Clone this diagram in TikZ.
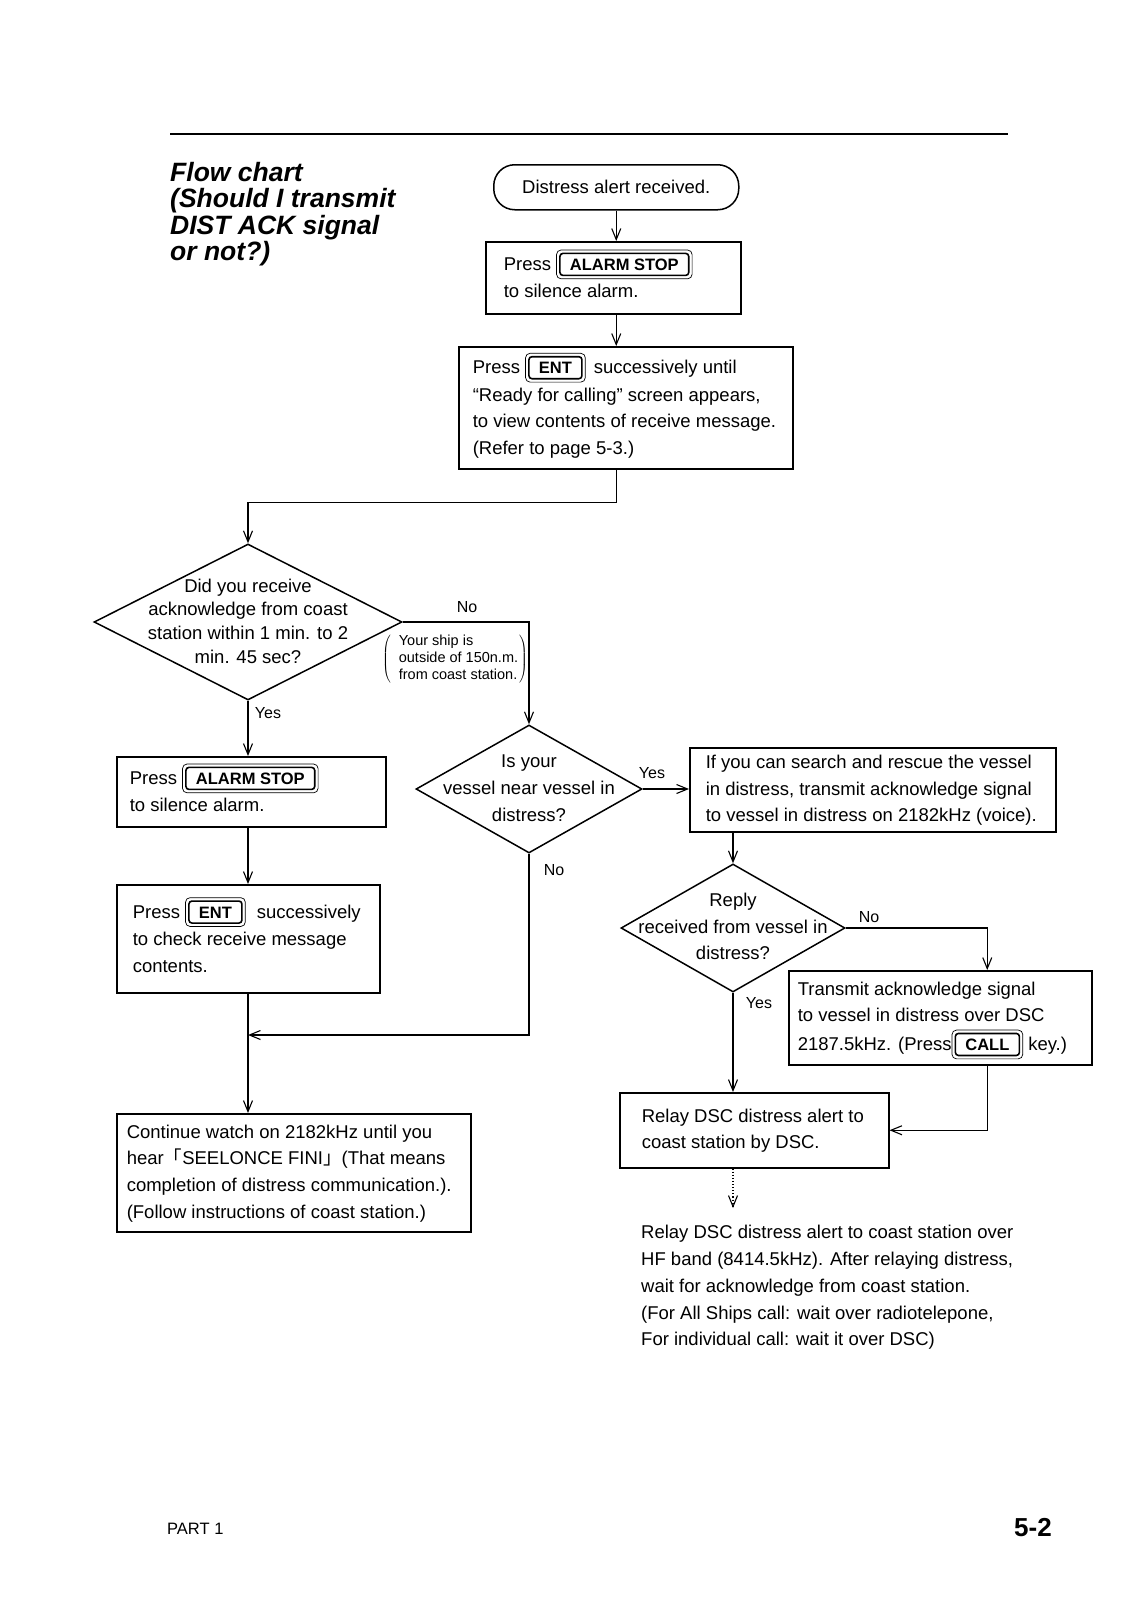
\documentclass[tikz,border=0pt]{standalone}
\usepackage{fontspec}
\setmainfont{Liberation Sans}
\newfontfamily\cjk{Noto Sans CJK JP}
\usetikzlibrary{shapes.geometric,arrows.meta}

\newcommand\txtl[1]{\begin{tabular}{@{}l@{}}#1\end{tabular}}
\newcommand\txtc[1]{\begin{tabular}{@{}c@{}}#1\end{tabular}}
\newcommand\keycap[1]{\tikz[baseline=(kc.base)]{\node[keyin](kc){#1};\draw[line width=0.7pt,rounded corners=4.5pt]([shift={(-2.6pt,-2.6pt)}]kc.south west) rectangle ([shift={(2.6pt,2.6pt)}]kc.north east);}}

\tikzset{
 keyin/.style={draw, rectangle, line width=1.6pt, rounded corners=3pt, minimum width=0pt, minimum height=0pt, anchor=center, inner xsep=10pt, inner ysep=5pt, text height=12pt, text depth=0pt, font=\bfseries\fontsize{16.5}{16.5}\selectfont},
 box/.style={draw, line width=1.5pt, anchor=north west, inner ysep=0pt, font=\fontsize{18.5}{26.7}\selectfont},
 dia/.style={draw, diamond, line width=1.5pt, inner sep=0pt},
 dtext/.style={inner sep=0pt, font=\fontsize{18.5}{26.7}\selectfont},
 lbl/.style={inner sep=0pt, font=\fontsize{16}{16}\selectfont},
 arr/.style={line width=1.1pt, -{Straight Barb[length=11pt,width=9pt,line width=1.1pt]}},
 con/.style={line width=1.1pt},
}

\begin{document}
\begin{tikzpicture}[x=1pt,y=-1pt]
\fill[white] (0,0) rectangle (1131,1600);
\useasboundingbox (0,0) rectangle (1131,1600);

% header
\draw[line width=1.2pt] (170,134) -- (1008,134);
\node[anchor=north west, inner sep=0pt, font=\bfseries\itshape\fontsize{26.5}{24.4}\selectfont] (title) at (170,162)
  {\txtl{Flow chart\\(Should I transmit\\DIST ACK signal\\or not?)}};

% top column
\node[draw, line width=1.5pt, rounded corners=21pt, minimum width=245pt, minimum height=45pt, anchor=north west, inner sep=0pt, font=\fontsize{18.5}{26.7}\selectfont] (start) at (493,164) {Distress alert received.};

\node[box, minimum width=255pt, minimum height=72pt, inner xsep=18pt] (b2) at (485,241)
  {\makebox[219pt][l]{\txtl{Press \keycap{ALARM STOP}\\to silence alarm.}}};

\node[box, minimum width=334pt, minimum height=122pt, inner xsep=14pt] (b3) at (458,346)
  {\makebox[306pt][l]{\txtl{Press \keycap{ENT}\hspace{3pt} successively until\\``Ready for calling'' screen appears,\\to view contents of receive message.\\(Refer to page 5-3.)}}};

% decision 1
\node[dia, minimum width=308pt, minimum height=156pt] (d1) at (248,622) {};
\node[dtext, font=\fontsize{18.5}{23.6}\selectfont] (d1t) at (248,623)
  {\txtc{Did you receive\\acknowledge from coast\\station within 1 min. to 2\\min. 45 sec?}};

\node[lbl] (no1) at (467,607) {No};
\node[lbl] (yes1) at (268,713) {Yes};
\node[inner sep=0pt, font=\fontsize{14.5}{17}\selectfont] (note) at (455,659)
  {$\left(\vcenter{\hbox{\hspace{8pt}\txtl{Your ship is\\outside of 150n.m.\\from coast station.}\hspace{1pt}}}\right)$};

% left column
\node[box, minimum width=269pt, minimum height=70pt, inner xsep=13pt] (b4) at (116,756)
  {\makebox[243pt][l]{\txtl{Press \keycap{ALARM STOP}\\to silence alarm.}}};

\node[box, minimum width=263pt, minimum height=108pt, inner xsep=16pt] (b5) at (116,884)
  {\makebox[231pt][l]{\txtl{Press \keycap{ENT}\hspace{6pt} successively\\to check receive message\\contents.}}};

\node[box, minimum width=354pt, minimum height=118pt, inner xsep=10pt] (b6) at (116,1113)
  {\makebox[334pt][l]{\txtl{Continue watch on 2182kHz until you\\hear{\cjk 「}SEELONCE FINI{\cjk 」}(That means\\completion of distress communication.).\\(Follow instructions of coast station.)}}};

% decision 2
\node[dia, minimum width=226pt, minimum height=128pt] (d2) at (529,789) {};
\node[dtext, font=\fontsize{18.5}{27}\selectfont] (d2t) at (529,789)
  {\txtc{Is your\\vessel near vessel in\\distress?}};
\node[lbl] (yes2) at (652,773) {Yes};
\node[lbl] (no2) at (554,870) {No};

\node[box, minimum width=366pt, minimum height=84pt, inner xsep=16pt] (b7) at (689,747)
  {\makebox[334pt][l]{\txtl{If you can search and rescue the vessel\\in distress, transmit acknowledge signal\\to vessel in distress on 2182kHz (voice).}}};

% decision 3
\node[dia, minimum width=224pt, minimum height=128pt] (d3) at (733,928) {};
\node[dtext, font=\fontsize{18.5}{26.5}\selectfont] (d3t) at (733,928)
  {\txtc{Reply\\received from vessel in\\distress?}};
\node[lbl] (no3) at (869,917) {No};
\node[lbl] (yes3) at (759,1003) {Yes};

\node[box, minimum width=303pt, minimum height=94pt, inner xsep=9pt] (b8) at (788,970)
  {\makebox[285pt][l]{\txtl{Transmit acknowledge signal\\to vessel in distress over DSC\\2187.5kHz. (Press\keycap{CALL} key.)}}};

\node[box, minimum width=269pt, minimum height=75pt, inner xsep=22pt] (b9) at (619,1092)
  {\makebox[225pt][l]{\txtl{Relay DSC distress alert to\\coast station by DSC.}}};

\node[anchor=west, inner sep=0pt, font=\fontsize{18.5}{26.8}\selectfont] (relay) at (641,1287)
  {\txtl{Relay DSC distress alert to coast station over\\HF band (8414.5kHz). After relaying distress,\\wait for acknowledge from coast station.\\(For All Ships call: wait over radiotelepone,\\For individual call: wait it over DSC)}};

% footer
\node[anchor=west, inner sep=0pt, font=\fontsize{16.5}{16.5}\selectfont] (part) at (167,1529) {PART 1};
\node[anchor=east, inner sep=0pt, font=\bfseries\fontsize{26}{26}\selectfont] (pg) at (1052,1528) {5-2};

% coordinates
\coordinate (j) at (248,1035);
\coordinate (dotend) at (733,1208);

% connectors
\draw[arr] (start.south) -- (start.south |- b2.north);
\draw[arr] (b2.south -| start.south) -- (start.south |- b3.north);
\draw[arr] (b3.south -| start.south) -- ++(0,33) -| (d1.north);
\draw[arr] (d1.east) -| (d2.north);
\draw[arr] (d1.south) -- (d1.south |- b4.north);
\draw[arr] (b4.south -| d1.south) -- (d1.south |- b5.north);
\draw[con] (b5.south -| d1.south) -- (j);
\draw[arr] (j) -- (d1.south |- b6.north);
\draw[arr] (d2.south) |- (j);
\draw[arr] (d2.east) -- (d2.east -| b7.west);
\draw[arr] (b7.south -| d3.north) -- (d3.north);
\draw[arr] (d3.east) -| ([xshift=47pt]b8.north);
\draw[arr] (d3.south) -- (d3.south |- b9.north);
\draw[arr] ([xshift=47pt]b8.south) |- (b9.east);
\draw[arr, dotted] (b9.south -| dotend) -- (dotend);
\end{tikzpicture}
\end{document}
